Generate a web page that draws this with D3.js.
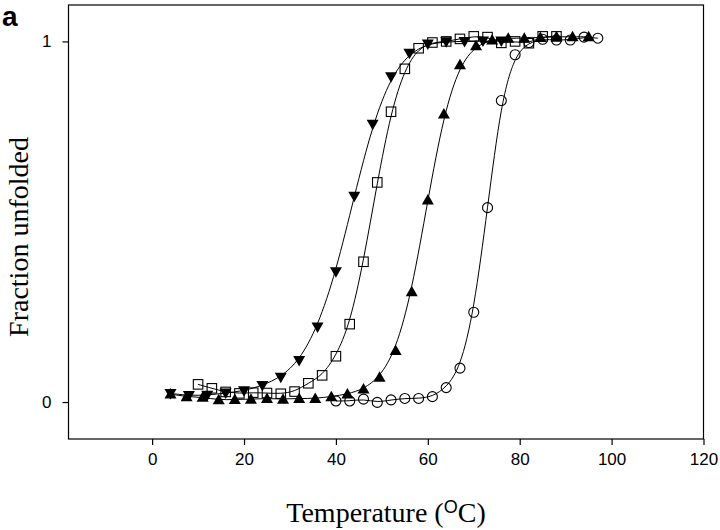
<!DOCTYPE html>
<html>
<head>
<meta charset="utf-8">
<script src="https://cdn.jsdelivr.net/npm/d3@7"></script>
<style>
  html, body { margin: 0; padding: 0; background: #fff; }
  svg { display: block; }
</style>
</head>
<body>
<svg id="chart" width="720" height="530"></svg>
<script>
// ---- Data ----
const xTicks = [0, 20, 40, 60, 80, 100, 120];
const yTicks = [0, 1];

// filled down-triangles
const downT = [4, 8, 12, 16, 20, 24, 28, 32, 36, 40, 44, 48, 52, 56, 60, 64, 68, 72, 76];
const downF = [0.024, 0.018, 0.019, 0.025, 0.031, 0.046, 0.069, 0.115, 0.208, 0.361, 0.571, 0.770, 0.902, 0.967, 0.993, 0.999, 1.0, 1.001, 1.001];

// open squares
const sqT = [10, 13, 16, 19, 22, 25, 28, 31, 34, 37, 40, 43, 46, 49, 52, 55, 58, 61, 64, 67, 70, 73, 76, 79, 82, 85, 88];
const sqF = [0.049, 0.038, 0.028, 0.024, 0.026, 0.025, 0.023, 0.029, 0.052, 0.074, 0.127, 0.216, 0.389, 0.609, 0.805, 0.924, 0.981, 0.997, 1.0, 1.007, 1.014, 1.012, 0.996, 1.0, 0.995, 1.014, 1.014];

// filled up-triangles
const upT = [4, 7.5, 11, 14.5, 18, 21.5, 25, 28.5, 32, 35.5, 39, 42.5, 46, 49.5, 53, 56.5, 60, 63.5, 67, 70.5, 74, 77.5, 81, 84.5, 88, 91.5, 95];
const upF = [0.022, 0.015, 0.013, 0.006, 0.007, 0.008, 0.010, 0.008, 0.010, 0.010, 0.015, 0.022, 0.036, 0.069, 0.143, 0.306, 0.560, 0.799, 0.935, 0.988, 1.004, 1.009, 1.009, 1.011, 1.013, 1.013, 1.013];

// open circles
const circT = [40, 43, 46, 49, 52, 55, 58, 61, 64, 67, 70, 73, 76, 79, 82, 85, 88, 91, 94, 97];
const circF = [0.003, 0.003, 0.008, -0.001, 0.006, 0.010, 0.010, 0.015, 0.040, 0.094, 0.249, 0.539, 0.836, 0.963, 0.997, 1.006, 1.004, 1.004, 1.012, 1.009];

const panelLabel = "a";
const xTitle = "Temperature (";
const yTitle = "Fraction unfolded";

// ---- Layout ----
const svg = d3.select("#chart");
const pLeft = 68.5, pRight = 703.5, pTop = 5, pBottom = 439;

const x = d3.scaleLinear().domain([-18.2, 120]).range([pLeft, pRight]);
const y = d3.scaleLinear().domain([-0.1025, 1.101]).range([pBottom, pTop]);

const zip = (ts, fs) => ts.map((t, i) => ({ t, f: fs[i] }));
const series = [
  { key: "down", data: zip(downT, downF) },
  { key: "sq", data: zip(sqT, sqF) },
  { key: "up", data: zip(upT, upF) },
  { key: "circ", data: zip(circT, circF) }
];

// frame
svg.append("rect")
  .attr("x", pLeft).attr("y", pTop)
  .attr("width", pRight - pLeft).attr("height", pBottom - pTop)
  .attr("fill", "none").attr("stroke", "#000").attr("stroke-width", 1.2);

// axes
const xAxis = d3.axisBottom(x).tickValues(xTicks).tickSize(6).tickPadding(8).tickFormat(d3.format("d"));
const gx = svg.append("g").attr("transform", `translate(0,${pBottom})`).call(xAxis);
gx.select(".domain").remove();
gx.selectAll("text").attr("font-family", "Liberation Sans, Arial, sans-serif").attr("font-size", 17).attr("fill", "#000");
gx.selectAll("line").attr("stroke", "#000").attr("stroke-width", 1.2);

const yAxis = d3.axisLeft(y).tickValues(yTicks).tickSize(6).tickPadding(11).tickFormat(d3.format("d"));
const gy = svg.append("g").attr("transform", `translate(${pLeft},0)`).call(yAxis);
gy.select(".domain").remove();
gy.selectAll("text").attr("font-family", "Liberation Sans, Arial, sans-serif").attr("font-size", 17).attr("fill", "#000");
gy.selectAll("line").attr("stroke", "#000").attr("stroke-width", 1.2);

// curves
const line = d3.line().x(d => x(d.t)).y(d => y(d.f)).curve(d3.curveBasis);
const plot = svg.append("g");
series.forEach(s => {
  plot.append("path")
    .attr("d", line(s.data))
    .attr("fill", "none").attr("stroke", "#000").attr("stroke-width", 1);
});

// markers
const downPath = "M-6,-4.5L6,-4.5L0,6Z";
const upPath = "M0,-6L6,4.5L-6,4.5Z";

plot.append("g").selectAll("path").data(series[0].data).join("path")
  .attr("transform", d => `translate(${x(d.t)},${y(d.f)})`)
  .attr("d", downPath).attr("fill", "#000");

plot.append("g").selectAll("rect").data(series[1].data).join("rect")
  .attr("x", d => x(d.t) - 4.75).attr("y", d => y(d.f) - 4.75)
  .attr("width", 9.5).attr("height", 9.5)
  .attr("fill", "none").attr("stroke", "#000").attr("stroke-width", 1.1);

plot.append("g").selectAll("path").data(series[2].data).join("path")
  .attr("transform", d => `translate(${x(d.t)},${y(d.f)})`)
  .attr("d", upPath).attr("fill", "#000");

plot.append("g").selectAll("circle").data(series[3].data).join("circle")
  .attr("cx", d => x(d.t)).attr("cy", d => y(d.f)).attr("r", 5)
  .attr("fill", "none").attr("stroke", "#000").attr("stroke-width", 1.1);

// titles
const xt = svg.append("text")
  .attr("x", (pLeft + pRight) / 2).attr("y", 522)
  .attr("text-anchor", "middle")
  .attr("font-family", "Liberation Serif, Times New Roman, serif")
  .attr("font-size", 28).attr("fill", "#000");
xt.append("tspan").text(xTitle);
xt.append("tspan").attr("dy", -9).attr("font-family", "Liberation Sans, Arial, sans-serif").attr("font-size", 18).text("O");
xt.append("tspan").attr("dy", 9).text("C)");

svg.append("text")
  .attr("transform", `translate(28,${(pTop + pBottom) / 2 + 15}) rotate(-90)`)
  .attr("text-anchor", "middle")
  .attr("font-family", "Liberation Serif, Times New Roman, serif")
  .attr("font-size", 28).attr("fill", "#000")
  .text(yTitle);

svg.append("text")
  .attr("x", 2).attr("y", 26)
  .attr("font-family", "Liberation Sans, Arial, sans-serif")
  .attr("font-weight", "bold").attr("font-size", 28).attr("fill", "#000")
  .text(panelLabel);
</script>
</body>
</html>
